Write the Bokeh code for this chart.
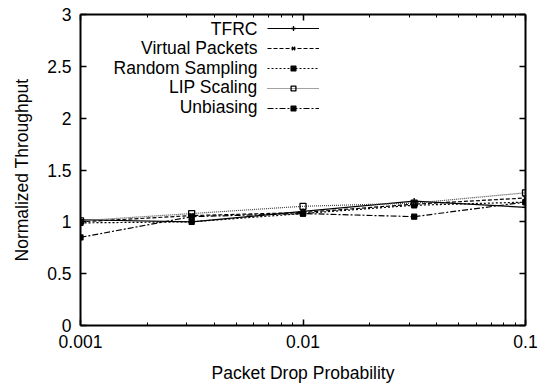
from bokeh.plotting import figure
from bokeh.models import (Range1d, LogAxis, LinearAxis, FixedTicker,
                          Legend, LegendItem, Label, CustomJSTickFormatter)
from bokeh.embed import file_html
from bokeh.resources import INLINE

# ---- data ----
drop_prob = [0.001, 0.00316, 0.01, 0.0316, 0.1]
tfrc = [1.02, 1.00, 1.10, 1.20, 1.14]
virtual_packets = [1.00, 1.06, 1.09, 1.17, 1.23]
random_sampling = [0.99, 1.00, 1.08, 1.16, 1.19]
lip_scaling = [1.01, 1.08, 1.15, 1.18, 1.28]
unbiasing = [0.85, 1.05, 1.08, 1.05, 1.19]
series_names = ["TFRC", "Virtual Packets", "Random Sampling", "LIP Scaling", "Unbiasing"]
x_ticks = [0.001, 0.01, 0.1]
y_ticks = [0, 0.5, 1, 1.5, 2, 2.5, 3]
x_minor = [d * k for d in x_ticks[:-1] for k in range(2, 10)]

FONT = "Liberation Sans"
FS = "17.5px"

p = figure(width=542, height=386, x_axis_type="log",
           x_range=Range1d(0.001, 0.1), y_range=Range1d(0, 3),
           output_backend="svg", toolbar_location=None,
           min_border_left=80, min_border_right=17,
           min_border_top=14, min_border_bottom=61)
p.outline_line_color = None
p.grid.visible = False
p.background_fill_color = "white"
p.border_fill_color = "white"

def style_axis(ax):
    ax.axis_line_width = 2
    ax.axis_line_color = "black"
    ax.major_tick_in = 6
    ax.major_tick_out = 0
    ax.minor_tick_in = 3
    ax.minor_tick_out = 0
    ax.major_tick_line_width = 1.5
    ax.minor_tick_line_width = 1
    ax.major_label_text_font = FONT
    ax.major_label_text_font_size = FS
    ax.major_label_text_color = "black"
    ax.axis_label_text_font = FONT
    ax.axis_label_text_font_size = FS
    ax.axis_label_text_font_style = "normal"
    ax.axis_label_text_color = "black"

fmt = CustomJSTickFormatter(code="return String(tick);")
blank = CustomJSTickFormatter(code="return '';")

xa = p.xaxis[0]
xa.ticker = FixedTicker(ticks=x_ticks, minor_ticks=x_minor)
xa.formatter = fmt
xa.axis_label = "Packet Drop Probability"
style_axis(xa)
xa.major_label_standoff = 9
xa.axis_label_standoff = 12

ya = p.yaxis[0]
ya.ticker = FixedTicker(ticks=y_ticks, minor_ticks=[])
ya.formatter = fmt
ya.axis_label = "Normalized Throughput"
style_axis(ya)
ya.major_label_standoff = 9
ya.axis_label_standoff = 12

top = LogAxis(ticker=FixedTicker(ticks=x_ticks, minor_ticks=x_minor), formatter=blank)
style_axis(top)
top.major_label_standoff = 0
p.add_layout(top, "above")

right = LinearAxis(ticker=FixedTicker(ticks=y_ticks, minor_ticks=[]), formatter=blank)
style_axis(right)
right.major_label_standoff = 0
p.add_layout(right, "right")

series = [tfrc, virtual_packets, random_sampling, lip_scaling, unbiasing]
dashes = ["solid", "4 2", "2 2", "1 1", "6 2 2 2"]
colors = ["black", "black", "black", "#444444", "black"]
markers = ["cross", "x", "square", "square", "square"]
fills = ["black", "black", "black", None, "black"]
msizes = [6, 6, 5, 6, 5]

items = []
for name, ys, dash, col, mk, fc, ms in zip(series_names, series, dashes, colors, markers, fills, msizes):
    r1 = p.line(drop_prob, ys, line_color=col, line_width=1.2, line_dash=dash)
    r2 = p.scatter(drop_prob, ys, marker=mk, size=ms, line_color="black",
                   line_width=1.3, fill_color=fc if fc else "white",
                   fill_alpha=1 if fc else 0)
    items.append(LegendItem(label="", renderers=[r1, r2]))

legend = Legend(items=items, location=(187, 211), glyph_width=52, glyph_height=12,
                spacing=8, padding=0, margin=0, label_width=0, label_standoff=0,
                label_text_font_size="10px", label_height=1,
                border_line_color=None, background_fill_alpha=0)
p.add_layout(legend, "center")

# right-aligned legend labels (gnuplot style)
for i, name in enumerate(series_names):
    lab = Label(x=177, y=297 - 19.5 * i, x_units="screen", y_units="screen",
                text=name, text_align="right", text_baseline="middle",
                text_font=FONT, text_font_size=FS, text_color="black")
    p.add_layout(lab)

open("out.html", "w").write(file_html(p, INLINE))
